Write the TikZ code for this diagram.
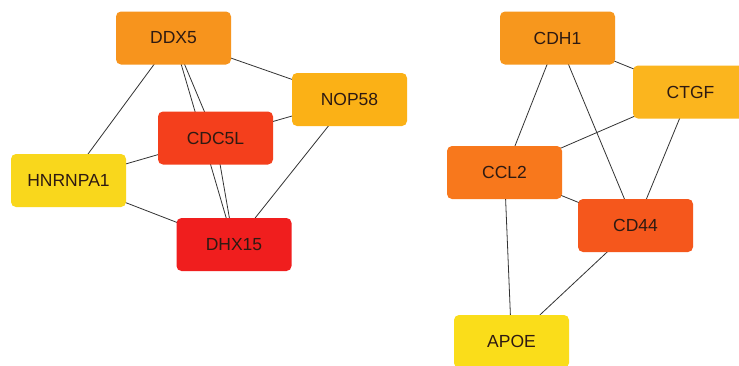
\documentclass[tikz,border=0pt]{standalone}
\usepackage{fontspec}
\setmainfont{Liberation Sans}
\usetikzlibrary{backgrounds}
\definecolor{cDDX}{HTML}{F7941D}
\definecolor{cNOP}{HTML}{FBB116}
\definecolor{cCDC}{HTML}{F43F1C}
\definecolor{cHNR}{HTML}{F9D71C}
\definecolor{cDHX}{HTML}{F01E1E}
\definecolor{cCDH}{HTML}{F7971D}
\definecolor{cCTG}{HTML}{FBB51E}
\definecolor{cCCL}{HTML}{F8781C}
\definecolor{cCD4}{HTML}{F5571C}
\definecolor{cAPO}{HTML}{FADD1A}
\definecolor{txt}{HTML}{2E1A12}
\definecolor{edge}{HTML}{333333}
\begin{document}
\begin{tikzpicture}[x=1pt,y=-1pt,
  gene/.style={rectangle,rounded corners=5pt,minimum width=115pt,minimum height=53pt,inner sep=0pt,text=txt,font=\fontsize{17.5}{19}\selectfont},
  link/.style={draw=edge,line width=0.8pt}]
\useasboundingbox (0,0) rectangle (739,365);
\clip (0,0) rectangle (739,365);
% left network
\node[gene,fill=cDDX] (ddx5) at (173.5,38) {DDX5};
\node[gene,fill=cNOP] (nop58) at (349.5,99.5) {NOP58};
\node[gene,fill=cCDC] (cdc5l) at (215.5,138) {CDC5L};
\node[gene,fill=cHNR] (hnrnpa1) at (68.5,180.5) {HNRNPA1};
\node[gene,fill=cDHX] (dhx15) at (234,244.5) {DHX15};
% right network
\node[gene,fill=cCDH] (cdh1) at (557.5,38) {CDH1};
\node[gene,fill=cCTG] (ctgf) at (690.5,92) {CTGF};
\node[gene,fill=cCCL] (ccl2) at (504.5,172.5) {CCL2};
\node[gene,fill=cCD4] (cd44) at (635.5,225.5) {CD44};
\node[gene,fill=cAPO] (apoe) at (511.5,341.5) {APOE};
\begin{scope}[on background layer]
\fill[white] (0,0) rectangle (739,365);
\draw[link] (ddx5.center) -- (hnrnpa1.center);
\draw[link] (ddx5.center) -- (nop58.center);
\draw[link] (ddx5.center) -- (cdc5l.center);
\draw[link] (ddx5.center) -- (dhx15.center);
\draw[link] (nop58.center) -- (cdc5l.center);
\draw[link] (nop58.center) -- (dhx15.center);
\draw[link] (hnrnpa1.center) -- (cdc5l.center);
\draw[link] (hnrnpa1.center) -- (dhx15.center);
\draw[link] (cdc5l.center) -- (dhx15.center);
\draw[link] (cdh1.center) -- (ctgf.center);
\draw[link] (cdh1.center) -- (ccl2.center);
\draw[link] (cdh1.center) -- (cd44.center);
\draw[link] (ctgf.center) -- (ccl2.center);
\draw[link] (ctgf.center) -- (cd44.center);
\draw[link] (ccl2.center) -- (cd44.center);
\draw[link] (ccl2.center) -- (apoe.center);
\draw[link] (cd44.center) -- (apoe.center);
\end{scope}
\end{tikzpicture}
\end{document}
